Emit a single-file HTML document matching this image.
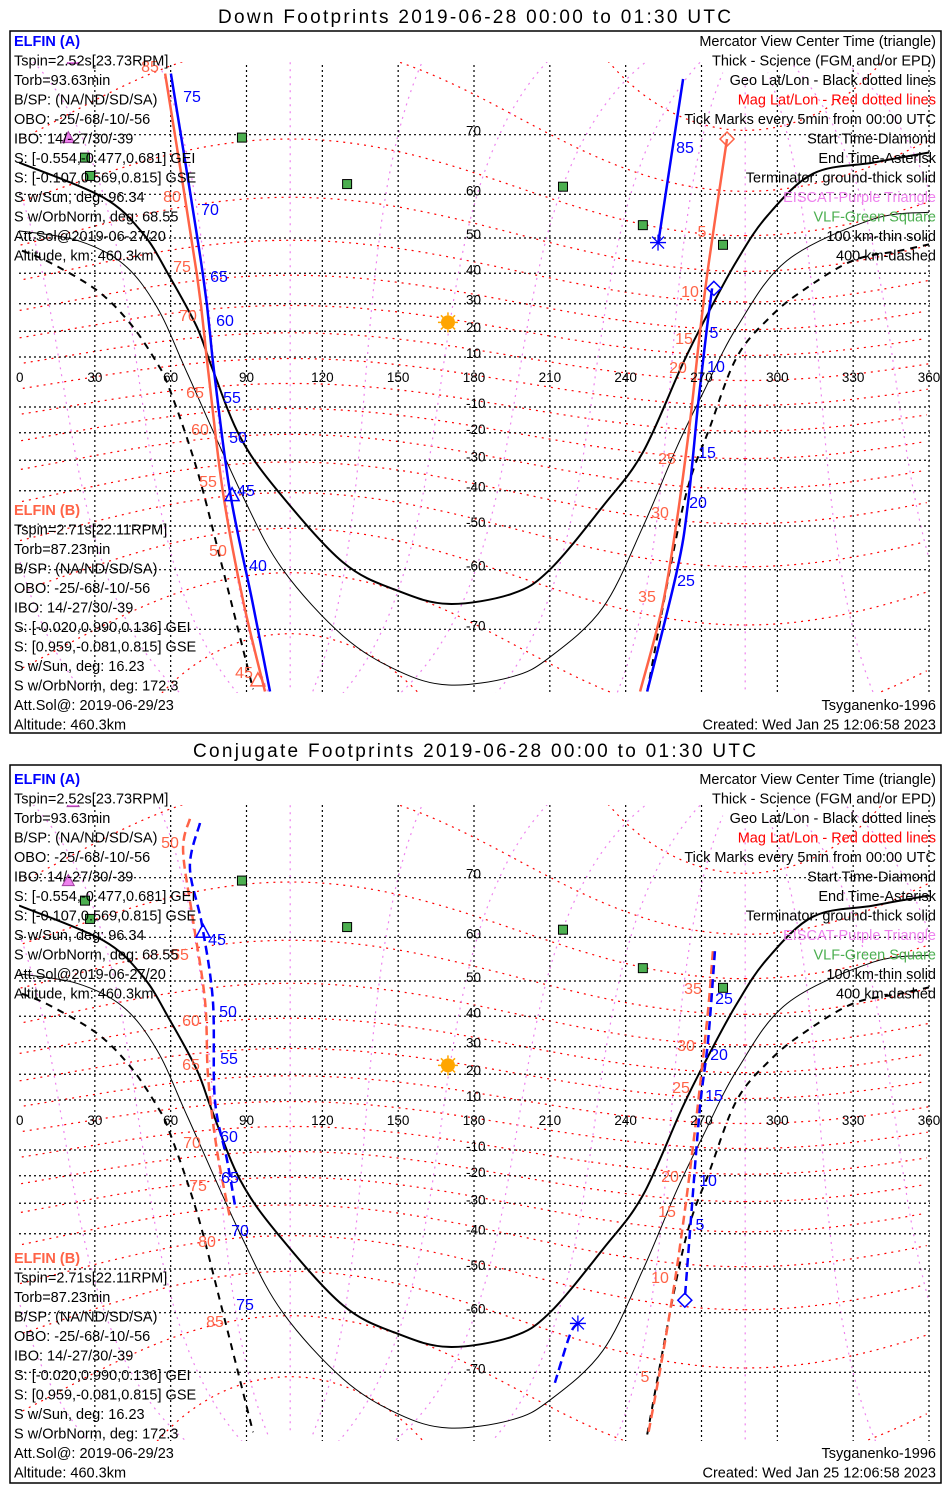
<!DOCTYPE html>
<html><head><meta charset="utf-8"><title>ELFIN Footprints</title>
<style>
html,body{margin:0;padding:0;background:#fff;width:950px;height:1500px;overflow:hidden;}
svg{display:block;font-family:"Liberation Sans",sans-serif;}
</style></head>
<body>
<svg id="chart" width="950" height="1500" viewBox="0 0 950 1500" xmlns="http://www.w3.org/2000/svg">
<rect x="0" y="0" width="950" height="1500" fill="#fff"/>
<defs>
<clipPath id="clipTop"><rect x="19" y="62" width="911" height="631"/></clipPath>
<clipPath id="clipBot"><rect x="19" y="805" width="911" height="636"/></clipPath>
</defs>
<text x="218" y="23" font-size="19" textLength="513">Down Footprints 2019-06-28 00:00 to 01:30 UTC</text>
<rect x="10" y="31" width="931" height="702" fill="none" stroke="#000" stroke-width="1.5"/>
<text x="193" y="757" font-size="19" textLength="563">Conjugate Footprints 2019-06-28 00:00 to 01:30 UTC</text>
<rect x="10" y="765" width="931" height="718" fill="none" stroke="#000" stroke-width="1.5"/>
<g id="layers"></g>
</svg>
<script>
// ---- data ----
const lonTicks=[0,30,60,90,120,150,180,210,240,270,300,330,360];
const latTicks=[70,60,50,40,30,20,10,-10,-20,-30,-40,-50,-60,-70];
const magLats=[-80,-70,-60,-50,-40,-30,-20,-10,0,10,20,30,40,50,60,70,80];
const magLons=[0,30,60,90,120,150,180,210,240,270,300,330];
const magPoleLat=80.6, magPoleLon=287.3;
// terminators
const termGroundLon=[0,33.2,49.1,59.7,70.4,76.7,87.4,102.1,128.2,150.0,170.0,195.0,210.0,231.0,246.8,262.7,273.3,284.0,295.9,314.1,337.8,360];
const termGroundLat=[65.8,59.4,51.1,38.8,21.5,4.8,-21.4,-39.8,-58.5,-64.0,-66.2,-64.5,-60.0,-44.6,-27.2,7.6,27.8,43.8,55.3,63.9,65.8,67.4];
const term100Lon=[0,22.9,41.1,54.6,66.9,88.6,104.4,128.2,150.0,170.0,195.0,210.0,231.0,246.8,260.3,270.6,284.0,303.8,337.8,360];
const term100Lat=[51.8,49.4,42.9,28.8,2.8,-41.8,-60.0,-70.9,-75.0,-76.4,-75.6,-73.5,-66.8,-50.2,-25.2,-4.4,21.5,43.8,54.6,56.2];
const term400LonA=[1.2,12.3,30.9,43.9,54.6,59.7,70.4,80.7,92.6];
const term400LatA=[46.6,43.2,34.5,23.0,7.6,-3.2,-33.2,-60.0,-76.8];
const term400LonB=[248.5,262.7,273.4,284.0,297.1,310.1,329.9,348.5,360];
const term400LatB=[-77.0,-44.6,-17.7,10.0,25.2,34.5,43.8,46.6,48.3];
// down footprints
const downBLon1=[57.8,70.4,74.8,80.7,88.6,97.3];
const downBLat1=[76.9,39.4,4.8,-40.6,-65.6,-77.0];
const downALon1=[60.1,72.8,77.1,83.5,92.2,99.3];
const downALat1=[76.9,39.4,4.8,-40.6,-65.6,-77.0];
const downALon2=[262.7,252.9];
const downALat2=[76.4,48.8];
const downALon3=[274.2,271.9,268.7,264.7,260.4,248.5];
const downALat3=[35.2,19.3,-8.4,-43.5,-60.0,-77.0];
const downBLon2=[280.1,273.0,269.4,265.4,260.3,254.4,245.7];
const downBLat2=[69.4,43.8,19.7,-16.2,-48.3,-66.8,-77.0];
// conjugate footprints
const conjBLon1=[67.6,64.9,68.8,73.6,74.8,78.3,83.5];
const conjBLat1=[76.7,73.4,63.4,44.6,18.9,-10.0,-35.2];
const conjALon1=[71.6,67.6,72.4,76.7,77.5,82.3,85.4];
const conjALat1=[76.3,71.4,62.4,44.6,10.0,-13.9,-30.6];
const conjBLon2=[274.5,272.2,266.6,260.7,254.7,248.8];
const conjBLat2=[57.1,38.8,-8.8,-47.6,-67.4,-77.1];
const conjALon2=[275.3,272.6,269.4,266.2,263.4];
const conjALat2=[57.1,32.2,7.2,-31.1,-57.1];
const conjALon3=[221.1,218.0,212.0];
const conjALat3=[-62.1,-64.1,-71.4];
// stations
const vlfLon=[88.2,26.1,28.1,129.8,215.2,246.8,278.5];
const vlfLat=[69.6,66.6,63.5,62.0,61.5,53.2,48.2];
const eiscatLon=[21.4,19.5];
const eiscatLat=[78.2,69.6];
const sunLon=[169.7], sunLat=[23.3];

const NS="http://www.w3.org/2000/svg";
const layers=document.getElementById('layers');
const BLUE="#0000ff", ORANGE="#ff6347", RED="#ff0000", MAG="#ee82ee";
const FS=14.5;
function px(lon){return 19+lon*2.5278;}
function py(lat,y0){const r=lat*Math.PI/180;return y0-142.5*Math.log(Math.tan(Math.PI/4+r/2));}
function mk(tag,attrs,parent){const e=document.createElementNS(NS,tag);for(const k in attrs)e.setAttribute(k,attrs[k]);(parent||layers).appendChild(e);return e;}
function lineD(lons,lats,y0){let d='';let prev=null;for(let i=0;i<lons.length;i++){const x=px(lons[i]),y=py(lats[i],y0);if(prev!==null&&Math.abs(lons[i]-prev)>180)d+='M';else d+=(i?'L':'M');d+=x.toFixed(1)+','+y.toFixed(1);prev=lons[i];}return d;}
function smoothD(lons,lats,y0){
  const P=lons.map((l,i)=>[px(l),py(lats[i],y0)]);
  let d='M'+P[0][0].toFixed(1)+','+P[0][1].toFixed(1);
  for(let i=0;i<P.length-1;i++){
    const p0=P[Math.max(0,i-1)],p1=P[i],p2=P[i+1],p3=P[Math.min(P.length-1,i+2)];
    const c1=[p1[0]+(p2[0]-p0[0])/6,p1[1]+(p2[1]-p0[1])/6];
    const c2=[p2[0]-(p3[0]-p1[0])/6,p2[1]-(p3[1]-p1[1])/6];
    d+=`C${c1[0].toFixed(1)},${c1[1].toFixed(1)} ${c2[0].toFixed(1)},${c2[1].toFixed(1)} ${p2[0].toFixed(1)},${p2[1].toFixed(1)}`;
  }
  return d;
}
function magToGeo(mlat,mlon){
  const d=Math.PI/180;
  const P=[Math.cos(magPoleLat*d)*Math.cos(magPoleLon*d),Math.cos(magPoleLat*d)*Math.sin(magPoleLon*d),Math.sin(magPoleLat*d)];
  let Y=[-P[1],P[0],0];const n=Math.hypot(Y[0],Y[1]);Y=[Y[0]/n,Y[1]/n,0];
  const X=[Y[1]*P[2]-Y[2]*P[1],Y[2]*P[0]-Y[0]*P[2],Y[0]*P[1]-Y[1]*P[0]];
  const c=Math.cos(mlat*d),s=Math.sin(mlat*d),cl=Math.cos(mlon*d),sl=Math.sin(mlon*d);
  const v=[0,1,2].map(i=>c*cl*X[i]+c*sl*Y[i]+s*P[i]);
  let lon=Math.atan2(v[1],v[0])/d;if(lon<0)lon+=360;
  return [lon,Math.asin(v[2])/d];
}

function panel(y0,clip,isTop){
  const g=mk('g',{'clip-path':'url(#'+clip+')'});
  
  
  magLats.forEach(ml=>{const lo=[],la=[];for(let m=0;m<=360;m+=2){const p=magToGeo(ml,m);lo.push(p[0]);la.push(p[1]);}
    const e=mk('path',{d:lineD(lo,la,y0),fill:'none',stroke:RED,'stroke-width':1.2,'stroke-dasharray':'2,5'},g);
    
    });
  magLons.forEach(ml=>{const lo=[],la=[];for(let m=-86;m<=86;m+=1){const p=magToGeo(m,ml);lo.push(p[0]);la.push(p[1]);}
    const e=mk('path',{d:lineD(lo,la,y0),fill:'none',stroke:MAG,'stroke-width':1.2,'stroke-dasharray':'2,5'},g);
    
    });
  lonTicks.forEach(l=>{if(l===0)return;const e=mk('line',{x1:px(l),x2:px(l),y1:0,y2:1500,stroke:'#000','stroke-width':1.2,'stroke-dasharray':'2,3'},g);
    
    });
  latTicks.forEach(l=>{const y=py(l,y0);const e=mk('line',{x1:19,x2:930,y1:y,y2:y,stroke:'#000','stroke-width':1.2,'stroke-dasharray':'2,3'},g);
    
    });
  let e=mk('path',{d:smoothD(termGroundLon,termGroundLat,y0),fill:'none',stroke:'#000','stroke-width':2},g);
  
  
  e=mk('path',{d:smoothD(term100Lon,term100Lat,y0),fill:'none',stroke:'#000','stroke-width':1},g);
  
  
  e=mk('path',{d:smoothD(term400LonA,term400LatA,y0),fill:'none',stroke:'#000','stroke-width':2,'stroke-dasharray':'7,6'},g);
  
  
  e=mk('path',{d:smoothD(term400LonB,term400LatB,y0),fill:'none',stroke:'#000','stroke-width':2,'stroke-dasharray':'7,6'},g);
  
  
  vlfLon.forEach((l,i)=>{const s=mk('rect',{x:px(l)-4.5,y:py(vlfLat[i],y0)-4.5,width:9,height:9,fill:'#4caf50',stroke:'#000','stroke-width':1},g);
    
    });
  eiscatLon.forEach((l,i)=>{const x=px(l),y=py(eiscatLat[i],y0);const s=mk('polygon',{points:`${x-6},${y+5} ${x+6},${y+5} ${x},${y-6}`,fill:'#ee82ee',stroke:'#a040a0','stroke-width':1},g);
    
    });
  const sx=px(sunLon[0]),sy=py(sunLat[0],y0);
  const sg=mk('g',{},g);
  
  
  for(let a=0;a<360;a+=45){const r=a*Math.PI/180;mk('line',{x1:sx+7*Math.cos(r),y1:sy+7*Math.sin(r),x2:sx+10*Math.cos(r),y2:sy+10*Math.sin(r),stroke:'#ffa500','stroke-width':1.5},sg);}
  mk('circle',{cx:sx,cy:sy,r:7,fill:'#ffa500'},sg);
  return g;
}
function track(g,lons,lats,y0,color,dashed,name){
  const e=mk('path',{d:smoothD(lons,lats,y0),fill:'none',stroke:color,'stroke-width':2.5},g);
  if(dashed)e.setAttribute('stroke-dasharray','9,5');
  
  
}
function marker(g,type,lon,lat,y0,color,name){
  const x=px(lon),y=py(lat,y0);let e;
  if(type==='tri')e=mk('polygon',{points:`${x-7},${y+6} ${x+7},${y+6} ${x},${y-7}`,fill:'none',stroke:color,'stroke-width':1.5},g);
  else if(type==='dia')e=mk('polygon',{points:`${x},${y-7} ${x+7},${y} ${x},${y+7} ${x-7},${y}`,fill:'none',stroke:color,'stroke-width':1.5},g);
  else{e=mk('path',{d:`M${x-8},${y}H${x+8}M${x},${y-8}V${y+8}M${x-6},${y-6}L${x+6},${y+6}M${x-6},${y+6}L${x+6},${y-6}`,stroke:color,'stroke-width':1.3},g);}
  
  
}
function txt(x,y,s,color,opts){const e=mk('text',Object.assign({x:x,y:y,fill:color||'#000','font-size':FS},opts||{}));e.textContent=s;return e;}
function axisLabels(y0,eqY){
  lonTicks.forEach(l=>{const e=txt(px(l)+(l===0?-3:0),eqY+5,String(l),'#000',{'text-anchor':l===0?'start':'middle','font-size':13.5});
    
    });
  latTicks.forEach(l=>{const e=txt(466,py(l,y0)+1,String(l),'#000',{'font-size':13.5});
    
    });
}
const leftA=["Tspin=2.52s[23.73RPM]","Torb=93.63min","B/SP: (NA/ND/SD/SA)","OBO: -25/-68/-10/-56","IBO: 14/-27/30/-39","S: [-0.554,-0.477,0.681] GEI","S: [-0.107,0.569,0.815] GSE","S w/Sun, deg: 96.34","S w/OrbNorm, deg: 68.55","Att.Sol@2019-06-27/20","Altitude, km: 460.3km"];
const leftB=["Tspin=2.71s[22.11RPM]","Torb=87.23min","B/SP: (NA/ND/SD/SA)","OBO: -25/-68/-10/-56","IBO: 14/-27/30/-39","S: [-0.020,0.990,0.136] GEI","S: [0.959,-0.081,0.815] GSE","S w/Sun, deg: 16.23","S w/OrbNorm, deg: 172.3","Att.Sol@: 2019-06-29/23","Altitude: 460.3km"];
const rightT=[["Mercator View Center Time (triangle)","#000"],["Thick - Science (FGM and/or EPD)","#000"],["Geo Lat/Lon - Black dotted lines","#000"],["Mag Lat/Lon - Red dotted lines","#ff0000"],["Tick Marks every 5min from 00:00 UTC","#000"],["Start Time-Diamond","#000"],["End Time-Asterisk","#000"],["Terminator: ground-thick solid","#000"],["EISCAT-Purple Triangle","#ee82ee"],["VLF-Green Square","#4caf50"],["100 km-thin solid","#000"],["400 km-dashed","#000"]];
function textBlocks(ta,tb){
  let e=txt(14,ta+5,"ELFIN (A)",BLUE,{'font-weight':'bold'});
  
  
  leftA.forEach((s,i)=>{const t=txt(14,ta+5+19.5*(i+1),s);
    
    });
  e=txt(14,tb+5,"ELFIN (B)",ORANGE,{'font-weight':'bold'});
  
  
  leftB.forEach((s,i)=>{const t=txt(14,tb+5+19.5*(i+1),s);
    
    });
  rightT.forEach((r,i)=>{const t=txt(936,ta+5+19.5*i,r[0],r[1],{'text-anchor':'end'});
    
    });
  e=txt(936,tb+5+19.5*10,"Tsyganenko-1996",'#000',{'text-anchor':'end'});
  
  
  e=txt(936,tb+5+19.5*11,"Created: Wed Jan 25 12:06:58 2023",'#000',{'text-anchor':'end'});
  
  
}
function tickLabels(list,color){list.forEach(a=>{const t=txt(a[1],a[2]+5,a[0],color,{'font-size':16,'text-anchor':'middle'});
  
  });}

const Y0T=382, Y0B=1125;
let g=panel(Y0T,'clipTop',true);
track(g,downBLon1,downBLat1,Y0T,ORANGE,false,'elfin-b-track-west');
track(g,downALon1,downALat1,Y0T,BLUE,false,'elfin-a-track-west');
track(g,downALon2,downALat2,Y0T,BLUE,false,'elfin-a-track-end');
track(g,downALon3,downALat3,Y0T,BLUE,false,'elfin-a-track-east');
track(g,downBLon2,downBLat2,Y0T,ORANGE,false,'elfin-b-track-east');
marker(g,'tri',84.3,-41.2,Y0T,BLUE,'elfin-a-center-triangle');
marker(g,'tri',94.5,-75.9,Y0T,ORANGE,'elfin-b-center-triangle');
marker(g,'ast',252.8,48.8,Y0T,BLUE,'elfin-a-end-asterisk');
marker(g,'dia',274.9,35.2,Y0T,BLUE,'elfin-a-start-diamond');
marker(g,'dia',280.1,69.4,Y0T,ORANGE,'elfin-b-start-diamond');
axisLabels(Y0T,377);
tickLabels([["85",150,67],["80",172,197],["75",182,267],["70",188,316],["65",195,393],["60",200,430],["55",208,482],["50",218,551],["45",244,673],["5",702,232],["10",690,292],["15",684,339],["20",678,368],["25",667,459],["30",660,513],["35",647,597]],ORANGE);
tickLabels([["75",192,97],["70",210,210],["65",219,277],["60",225,321],["55",232,398],["50",238,438],["45",246,491],["40",258,566],["85",685,148],["5",714,333],["10",716,367],["15",707,453],["20",698,503],["25",686,581]],BLUE);
textBlocks(41,510);

g=panel(Y0B,'clipBot',false);
track(g,conjBLon1,conjBLat1,Y0B,ORANGE,true,'elfin-b-conj-track-west');
track(g,conjALon1,conjALat1,Y0B,BLUE,true,'elfin-a-conj-track-west');
track(g,conjBLon2,conjBLat2,Y0B,ORANGE,true,'elfin-b-conj-track-east');
track(g,conjALon2,conjALat2,Y0B,BLUE,true,'elfin-a-conj-track-east');
track(g,conjALon3,conjALat3,Y0B,BLUE,true,'elfin-a-conj-track-end');
marker(g,'tri',72.8,61.2,Y0B,BLUE,'elfin-a-conj-triangle');
marker(g,'ast',221.1,-62.1,Y0B,BLUE,'elfin-a-conj-asterisk');
marker(g,'dia',263.4,-57.4,Y0B,BLUE,'elfin-a-conj-diamond');
axisLabels(Y0B,1120);
tickLabels([["50",170,843],["55",180,955],["60",191,1021],["65",191,1065],["70",192,1143],["75",198,1186],["80",207,1242],["85",215,1322],["35",693,989],["30",686,1046],["25",681,1088],["20",670,1177],["15",667,1212],["10",660,1278],["5",645,1377]],ORANGE);
tickLabels([["45",217,940],["50",228,1012],["55",229,1059],["60",229,1137],["65",230,1178],["70",240,1231],["75",245,1305],["25",724,999],["20",719,1055],["15",714,1096],["10",708,1181],["5",700,1225]],BLUE);
textBlocks(779,1258);
</script>
</body></html>
